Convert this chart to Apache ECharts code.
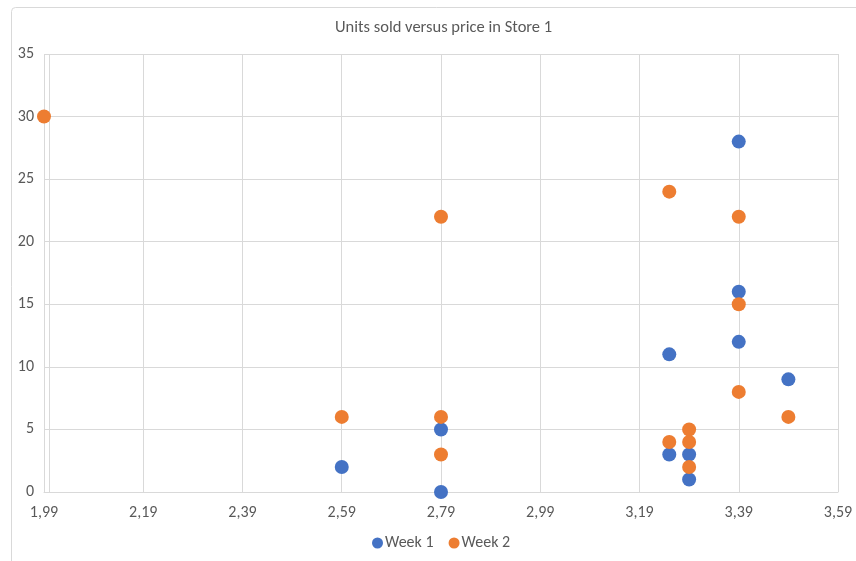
<!DOCTYPE html>
<html>
<head>
<meta charset="utf-8">
<script src="https://cdn.jsdelivr.net/npm/echarts@6/dist/echarts.min.js"></script>
<style>
  html, body { margin: 0; padding: 0; background: #fff; }
  #chart { width: 856px; height: 561px; }
</style>
</head>
<body>
<div id="chart"></div>
<script>
// Units sold at each price point, Store 1
const chartTitle = 'Units sold versus price in Store 1';
const seriesNames = ['Week 1', 'Week 2'];

const week1Price = [2.59, 2.79, 2.79, 3.25, 3.25, 3.29, 3.29, 3.39, 3.39, 3.39, 3.49];
const week1Units = [2, 5, 0, 11, 3, 3, 1, 28, 16, 12, 9];

const week2Price = [1.99, 2.59, 2.79, 2.79, 2.79, 3.25, 3.25, 3.29, 3.29, 3.29, 3.39, 3.39, 3.39, 3.49];
const week2Units = [30, 6, 22, 6, 3, 24, 4, 5, 4, 2, 22, 15, 8, 6];

const priceMin = 1.99, priceMax = 3.59, priceStep = 0.2;
const unitsMin = 0, unitsMax = 35, unitsStep = 5;
const axisCrossPrice = 2.00;

const pairs = (xs, ys) => xs.map((x, i) => [x, ys[i]]);

const textColor = '#595959';
const gridColor = '#d9d9d9';
const fontFamily = 'Carlito, "Liberation Sans", Arial, sans-serif';

const chart = echarts.init(document.getElementById('chart'), null, { renderer: 'canvas' });
chart.setOption({
  backgroundColor: '#ffffff',
  animation: false,
  textStyle: { fontFamily: fontFamily },
  graphic: [{
    type: 'rect',
    shape: { x: 11.5, y: 7.5, width: 900, height: 600, r: 4 },
    style: { fill: 'none', stroke: '#d9d9d9', lineWidth: 1 },
    silent: true, z: -10
  }],
  title: {
    text: chartTitle,
    left: 330,
    top: 14,
    textStyle: { color: textColor, fontSize: 16.5, fontWeight: 'normal', fontFamily: fontFamily }
  },
  legend: {
    data: seriesNames,
    bottom: 5,
    left: 367,
    icon: 'circle',
    itemWidth: 11,
    itemHeight: 11,
    itemGap: 15,
    textStyle: { color: textColor, fontSize: 16, fontFamily: fontFamily, padding: [0, 0, 0, -3] }
  },
  grid: { left: 44, right: 18, top: 54, bottom: 69, containLabel: false },
  xAxis: {
    type: 'value',
    min: priceMin,
    max: priceMax,
    interval: priceStep,
    axisLine: { show: true, lineStyle: { color: gridColor, width: 1 } },
    axisTick: { show: false },
    splitLine: { show: true, lineStyle: { color: gridColor, width: 1 } },
    axisLabel: {
      color: textColor, fontSize: 16, margin: 13, fontFamily: fontFamily,
      formatter: v => v.toFixed(2).replace('.', ',')
    }
  },
  yAxis: {
    type: 'value',
    min: unitsMin,
    max: unitsMax,
    interval: unitsStep,
    axisLine: { show: false },
    axisTick: { show: false },
    splitLine: { show: true, lineStyle: { color: gridColor, width: 1 } },
    axisLabel: { color: textColor, fontSize: 16, margin: 10, fontFamily: fontFamily }
  },
  series: [
    {
      name: seriesNames[0],
      type: 'scatter',
      symbol: 'circle',
      symbolSize: 14,
      itemStyle: { color: '#4472C4', opacity: 1 },
      data: pairs(week1Price, week1Units),
      markLine: {
        silent: true,
        symbol: 'none',
        label: { show: false },
        lineStyle: { color: gridColor, type: 'solid', width: 1 },
        data: [{ xAxis: axisCrossPrice }],
        z: 1
      },
      z: 3
    },
    {
      name: seriesNames[1],
      type: 'scatter',
      symbol: 'circle',
      symbolSize: 14,
      itemStyle: { color: '#ED7D31', opacity: 1 },
      data: pairs(week2Price, week2Units),
      z: 4
    }
  ]
});
</script>
</body>
</html>
